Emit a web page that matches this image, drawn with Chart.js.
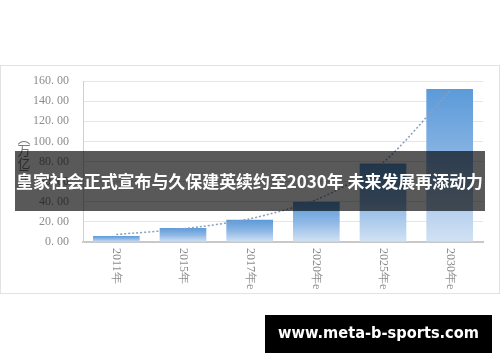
<!DOCTYPE html>
<html><head><meta charset="utf-8">
<script src="https://cdn.jsdelivr.net/npm/chart.js@4/dist/chart.umd.min.js"></script>
<style>html,body{margin:0;padding:0;background:#fff;}#wrap{position:relative;width:500px;height:362px;}</style>
</head><body><div id="wrap"><canvas id="c" width="500" height="362"></canvas></div>
<script>
const categories = ['2011年','2015年','2017年e','2020年e','2025年e','2030年e'];
const barValues = [6, 14, 22, 40, 78, 152];
const trendValues = [7.5, 13, 23, 42, 79, 150];
const yTitleChars = ['︵','万','亿','元','︶'];
const bannerText = '皇家社会正式宣布与久保建英续约至2030年 未来发展再添动力';
const watermarkText = 'www.meta-b-sports.com';

const serif = '"Liberation Serif","DejaVu Serif",serif';
const cjk = '"Noto Sans CJK SC","Noto Sans",sans-serif';

const decor = {
  id: 'decor',
  beforeDraw(chart) {
    const ctx = chart.ctx;
    ctx.save();
    ctx.fillStyle = '#fff';
    ctx.fillRect(0, 0, 500, 362);
    ctx.strokeStyle = '#e2e2e2';
    ctx.lineWidth = 1;
    ctx.strokeRect(0.5, 65.5, 499, 228);
    ctx.restore();
  },
  afterDraw(chart) {
    const ctx = chart.ctx;
    const xs = chart.scales.x;
    ctx.save();
    ctx.fillStyle = '#8c8c8c';
    ctx.font = '12px ' + serif;
    ctx.textBaseline = 'middle';
    ctx.textAlign = 'left';
    categories.forEach((c, i) => {
      const x = xs.getPixelForTick(i);
      ctx.save();
      ctx.translate(x, 248);
      ctx.rotate(Math.PI / 2);
      ctx.fillText(c, 0, 0);
      ctx.restore();
    });
    ctx.fillStyle = '#7a7a7a';
    ctx.font = '13px ' + cjk;
    ctx.textAlign = 'center';
    ctx.textBaseline = 'middle';
    yTitleChars.forEach((ch, i) => {
      ctx.fillText(ch, 24, 138 + i * 12.5);
    });
    ctx.fillStyle = 'rgba(0,0,0,0.65)';
    ctx.fillRect(15, 151, 470, 60);
    ctx.fillStyle = '#fff';
    ctx.font = 'bold 17px ' + cjk;
    ctx.textAlign = 'left';
    let w = ctx.measureText(bannerText).width;
    ctx.save();
    ctx.translate(16, 182);
    ctx.scale(467 / w, 1);
    ctx.fillText(bannerText, 0, 0);
    ctx.restore();
    ctx.fillStyle = '#000';
    ctx.fillRect(265, 315, 227, 38);
    ctx.fillStyle = '#fff';
    ctx.font = 'bold 16px "DejaVu Sans",sans-serif';
    w = ctx.measureText(watermarkText).width;
    ctx.save();
    ctx.translate(278, 334);
    ctx.scale(201 / w, 1);
    ctx.fillText(watermarkText, 0, 0);
    ctx.restore();
    ctx.restore();
  }
};

function barGradient(context) {
  const chart = context.chart;
  const area = chart.chartArea;
  if (!area || context.type !== 'data') return '#6ea3dc';
  const ys = chart.scales.y;
  const top = ys.getPixelForValue(context.raw);
  const bottom = ys.getPixelForValue(0);
  const g = chart.ctx.createLinearGradient(0, top, 0, bottom);
  g.addColorStop(0, '#5b9ad9');
  g.addColorStop(0.5, '#8db7e5');
  g.addColorStop(1, '#d2e2f4');
  return g;
}

new Chart(document.getElementById('c'), {
  data: {
    labels: categories,
    datasets: [
      { type: 'line', data: trendValues, borderColor: '#8a9fc0', borderWidth: 1.5, borderDash: [2, 2], pointRadius: 0, fill: false, tension: 0.25, order: 0 },
      { type: 'bar', data: barValues, backgroundColor: barGradient, barPercentage: 0.7, categoryPercentage: 1, order: 1 }
    ]
  },
  options: {
    responsive: false,
    animation: false,
    events: [],
    layout: { padding: { left: 0, right: 17, top: 81, bottom: 0 } },
    plugins: { legend: { display: false }, tooltip: { enabled: false } },
    scales: {
      x: {
        ticks: { display: false },
        grid: { display: false },
        border: { color: '#c8c8c8', width: 2 },
        afterFit(s) { s.height = 120; }
      },
      y: {
        min: 0, max: 160,
        ticks: { stepSize: 20, color: '#8c8c8c', font: { family: serif, size: 12 }, padding: 14,
          callback: v => v.toFixed(2).replace('.', '. ') },
        grid: { color: '#e6e6e6', drawTicks: false },
        border: { color: '#d0d0d0' },
        afterFit(s) { s.width = 83; }
      }
    }
  },
  plugins: [decor]
});
</script></body></html>
